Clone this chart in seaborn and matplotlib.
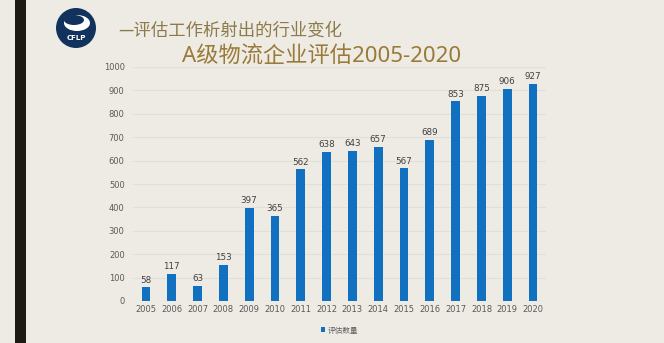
import matplotlib
matplotlib.use("Agg")
import matplotlib.pyplot as plt
import seaborn as sns
import pandas as pd
from matplotlib.patches import Rectangle, Ellipse

years = ["2005", "2006", "2007", "2008", "2009", "2010", "2011", "2012",
         "2013", "2014", "2015", "2016", "2017", "2018", "2019", "2020"]
counts = [58, 117, 63, 153, 397, 365, 562, 638, 643, 657, 567, 689, 853, 875, 906, 927]
y_ticks = [0, 100, 200, 300, 400, 500, 600, 700, 800, 900, 1000]
series_name = "评估数量"
title = "A级物流企业评估2005-2020"
subtitle = "—评估工作析射出的行业变化"

sns.set_theme(style="white")
plt.rcParams["font.family"] = ["Noto Sans CJK SC", "DejaVu Sans"]

bg = "#EEEBE4"
bar_color = "#1170C0"
gold = "#9A7A38"
latin_first = ["Noto Sans", "Noto Sans CJK SC"]

df = pd.DataFrame({"year": years, series_name: counts})

fig = plt.figure(figsize=(6.64, 3.43), dpi=100, facecolor=bg)
ax = fig.add_axes([133 / 664, 42 / 343, 413 / 664, 234 / 343])
ax.set_facecolor(bg)

sns.barplot(data=df, x="year", y=series_name, color=bar_color, width=0.34,
            saturation=1, linewidth=0, ax=ax, label=series_name)

ax.set_ylim(0, 1000)
ax.set_xlim(-0.5, len(years) - 0.5)
ax.set_yticks(y_ticks)
ax.set_yticklabels([str(v) for v in y_ticks])
ax.yaxis.grid(True, color="#E2DFD8", linewidth=0.8)
ax.set_axisbelow(True)
for s in ax.spines.values():
    s.set_visible(False)
ax.tick_params(axis="both", length=0, labelsize=6, colors="#5A5A5A", pad=6)
ax.tick_params(axis="x", pad=3)
for lbl in ax.get_xticklabels() + ax.get_yticklabels():
    lbl.set_family("DejaVu Sans")
ax.set_xlabel("")
ax.set_ylabel("")

ax.bar_label(ax.containers[0], labels=[str(v) for v in counts], padding=2,
             fontsize=6.3, color="#404040", family="DejaVu Sans")

ax.legend(loc="upper center", bbox_to_anchor=(0.5, -0.08), frameon=False,
          fontsize=5.5, handlelength=0.6, handleheight=0.6, handletextpad=0.3,
          labelcolor="#606060")

# dark side rule
fig.patches.append(Rectangle((15 / 664, 0), 11 / 664, 1, transform=fig.transFigure,
                             facecolor="#1C1A12", edgecolor="none"))

# CFLP badge
fig_w, fig_h = 664, 343
cx, cy, r = 76 / fig_w, 1 - 28 / fig_h, 20
fig.patches.append(Ellipse((cx, cy), 2 * r / fig_w, 2 * r / fig_h,
                           transform=fig.transFigure, facecolor="#12325E",
                           edgecolor="none"))
fig.patches.append(Ellipse((cx + 1 / fig_w, cy + 5 / fig_h), 26 / fig_w, 16 / fig_h,
                           transform=fig.transFigure, facecolor="white",
                           edgecolor="none"))
fig.patches.append(Ellipse((cx - 2 / fig_w, cy + 8 / fig_h), 20 / fig_w, 10 / fig_h,
                           transform=fig.transFigure, facecolor="#12325E",
                           edgecolor="none"))
fig.text(cx, cy - 10 / fig_h, "CFLP", ha="center", va="center", fontsize=5,
         color="white", weight="bold", family="DejaVu Sans")

fig.text(118 / 664, 1 - 31 / 343, subtitle, ha="left", va="center",
         fontsize=12.5, color="#8C7A4A")
fig.text(322 / 664, 1 - 57 / 343, title, ha="center", va="center",
         fontsize=16, color=gold, family=latin_first)

fig.savefig("out.png", dpi=100, facecolor=bg)
